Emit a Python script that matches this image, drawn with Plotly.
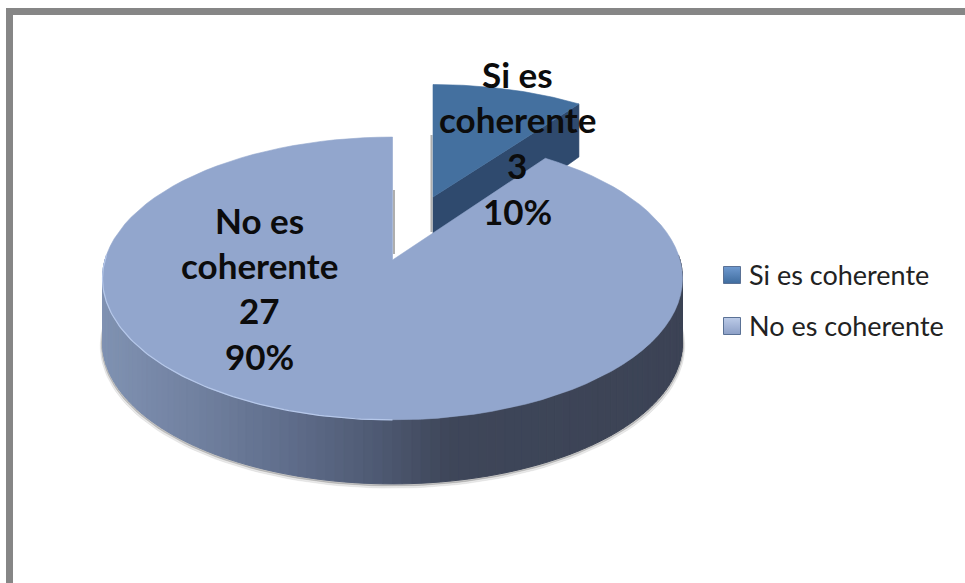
import math
import plotly.graph_objects as go

# ---- data ----
categories = ["Si es coherente", "No es coherente"]
counts = [3, 27]
label_lines = [["Si es", "coherente"], ["No es", "coherente"]]

# ---- drawing style and placement (canvas pixels) ----
W, H = 965, 583
FACE_COLORS = ["#44709f", "#92a6cd"]
LEGEND_COLORS = ["#3f6c9e", "#8c9fc6"]
LEGEND_LIGHT = ["#6f9ad0", "#bccbe8"]
WALL_DARK = "#2f4a6e"
CUT = 100  # arc resolution
K, RX, RY_TOP = 0.1307, 287.5, 139.0
DEPTH = 64
BIG_APEX = (392.5, 260)
SMALL_APEX = (433, 197)
SMALL_SCALE = (0.955, 0.915)
LABEL_X = [517, 259]
LABEL_Y = [[74, 119, 165, 211], [220, 265, 310, 356]]
KEY_X, KEY_Y = 732, [275, 326]
WALL_STOPS = [(102, (128, 146, 178)), (200, (112, 128, 159)), (300, (93, 107, 136)),
              (380, (78, 89, 114)), (450, (62, 70, 89)), (681, (60, 67, 85))]

total = sum(counts)
shares = [c / total for c in counts]


def project(theta_deg, apex, sx=1.0, sy=1.0, dy=0):
    """Clockwise angle from 12 o'clock to a pixel on the tilted disc."""
    t = math.radians(theta_deg)
    X, Y = math.sin(t), math.cos(t)
    w = 1 + K * Y
    return apex[0] + sx * RX * X / w, apex[1] - sy * RY_TOP * Y / w + dy


def arc(a0, a1, apex, sx=1.0, sy=1.0, dy=0, n=CUT):
    return [project(a0 + (a1 - a0) * i / n, apex, sx, sy, dy) for i in range(n + 1)]


def wall_color(x):
    for (x0, c0), (x1, c1) in zip(WALL_STOPS, WALL_STOPS[1:]):
        if x <= x1:
            f = max(0.0, (x - x0) / (x1 - x0))
            c = [round(a + (b - a) * f) for a, b in zip(c0, c1)]
            return "rgb(%d,%d,%d)" % tuple(c)
    return "rgb(%d,%d,%d)" % WALL_STOPS[-1][1]


fig = go.Figure()


def poly(points, color, name=None, line=None, width=0.6):
    fig.add_trace(go.Scatter(
        x=[p[0] for p in points] + [points[0][0]],
        y=[p[1] for p in points] + [points[0][1]],
        mode="lines", fill="toself", fillcolor=color,
        line=dict(color=line or color, width=width),
        hoverinfo="skip" if name is None else "name",
        name=name or "", showlegend=False))


def stroke(points, color, width):
    fig.add_trace(go.Scatter(
        x=[p[0] for p in points], y=[p[1] for p in points], mode="lines",
        line=dict(color=color, width=width), hoverinfo="skip", showlegend=False))


small_end = shares[0] * 360

# small slice: cut wall first, then its face
corner = project(small_end, SMALL_APEX, *SMALL_SCALE)
poly([SMALL_APEX, corner, (corner[0], corner[1] + 53),
      (SMALL_APEX[0], SMALL_APEX[1] + 64)], WALL_DARK)
stroke([(SMALL_APEX[0] - 1.5, 135), (SMALL_APEX[0] - 1.5, 232)], "rgba(120,120,120,0.6)", 2)
poly([SMALL_APEX] + arc(0, small_end, SMALL_APEX, *SMALL_SCALE), FACE_COLORS[0], categories[0])

# soft shadow under the big slice
for grow, drop, alpha in [(1.008, 3, 0.12), (1.004, 1.5, 0.25)]:
    poly(arc(88, 272, BIG_APEX, grow, grow, DEPTH + drop), "rgba(70,70,70,%.2f)" % alpha)

# curved wall of the big slice, one strip per step
steps = 110
a_start, a_end = 272, 88
for i in range(steps):
    a0 = a_start - (a_start - a_end) * i / steps
    a1 = a_start - (a_start - a_end) * (i + 1) / steps
    top = arc(a0, a1, BIG_APEX, n=2)
    bottom = arc(a1, a0, BIG_APEX, dy=DEPTH, n=2)
    poly(top + bottom, wall_color((top[0][0] + top[-1][0]) / 2), width=1)

# big slice face, with its light rim and the thin shadow in the gap
stroke([(BIG_APEX[0] + 1.5, 190), (BIG_APEX[0] + 1.5, 254)], "rgba(120,120,120,0.6)", 2)
poly([BIG_APEX] + arc(small_end, 360, BIG_APEX), FACE_COLORS[1], categories[1])
stroke(arc(180, 272, BIG_APEX), "#b6c8ea", 1.2)

# legend: native entries keep the text, keys sit close to it like the original
for i, name in enumerate(categories):
    fig.add_trace(go.Scatter(
        x=[None], y=[None], mode="markers", name=name, legendgroup=name,
        marker=dict(symbol="square", size=2, color="rgba(0,0,0,0)"),
    ))
    fig.add_trace(go.Scatter(
        x=[KEY_X], y=[KEY_Y[i]], mode="markers", showlegend=False, hoverinfo="name", name=name,
        marker=dict(symbol="square", size=17, color=LEGEND_LIGHT[i],
                    gradient=dict(type="vertical", color=LEGEND_COLORS[i]),
                    line=dict(color="#5a7195", width=1)),
    ))

annotations = []
for i in range(len(categories)):
    lines = label_lines[i] + [str(counts[i]), "%d%%" % round(shares[i] * 100)]
    for text, y in zip(lines, LABEL_Y[i]):
        annotations.append(dict(x=LABEL_X[i], y=y, xref="x", yref="y", text="<b>%s</b>" % text,
                                showarrow=False, xanchor="center", yanchor="middle",
                                font=dict(family="Lato", size=35, color="#0c0c0c")))

frame = [(6, 8, W, 15), (6, 8, 13, H)]
shapes = [dict(type="rect", xref="x", yref="y", x0=a, y0=b, x1=c, y1=d,
               fillcolor="#868686", line=dict(width=0), layer="below") for a, b, c, d in frame]

fig.update_layout(
    width=W, height=H, margin=dict(l=0, r=0, t=0, b=0),
    paper_bgcolor="white", plot_bgcolor="white",
    xaxis=dict(range=[0, W], visible=False, fixedrange=True),
    yaxis=dict(range=[H, 0], visible=False, fixedrange=True),
    shapes=shapes, annotations=annotations,
    legend=dict(x=709 / W, y=1 - 250 / H, xanchor="left", yanchor="top",
                bgcolor="rgba(0,0,0,0)", itemwidth=30, tracegroupgap=13,
                font=dict(family="Lato", size=27, color="#222222")),
    showlegend=True,
)
fig.write_html("out.html", config=dict(displayModeBar=False),
               post_script="document.body.style.margin='0';document.body.style.overflow='hidden';")
